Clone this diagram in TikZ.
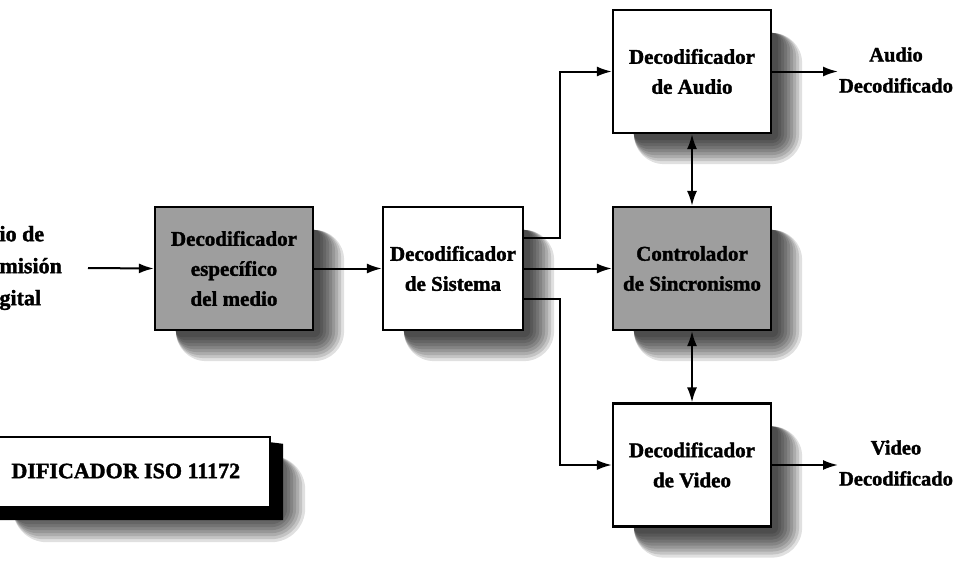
\documentclass[tikz,border=0pt]{standalone}
\usepackage{fontspec}
\setmainfont{Liberation Serif}[BoldFeatures={FakeBold=1.6}]
\usetikzlibrary{arrows.meta,calc,backgrounds}
\tikzset{
  blk/.style={draw=black, line width=2.2pt, minimum width=158pt, minimum height=123pt,
    align=center, font=\fontsize{21}{30}\selectfont\bfseries, inner sep=2pt},
  whitebox/.style={blk, fill=white},
  graybox/.style={blk, fill=black!38},
  lbl/.style={align=center, font=\fontsize{20.5}{31}\selectfont\bfseries},
  tip/.style={Latex[length=15pt,width=10pt]},
  conn/.style={line width=2pt, -{Latex[length=15pt,width=10pt]}},
  dconn/.style={line width=2pt, {Latex[length=15pt,width=10pt]}-{Latex[length=15pt,width=10pt]}},
}
\newcommand\fuzzyshade[1]{%
  \foreach \d in {30,27,...,6} {
    \fill[black, opacity=0.12, rounded corners=\d pt]
      ($(#1.north west)+(22,24)$) rectangle ($(#1.south east)+(\d,\d)$);
  }}
\begin{document}
\begin{tikzpicture}[x=1pt,y=-1pt]
\useasboundingbox (0,0) rectangle (965,565);

% boxes
\node[graybox] (med) at (234,268.5) {Decodificador\\específico\\del medio};
\node[whitebox, minimum width=140pt] (sis) at (453,268.5) {Decodificador\\de Sistema};
\node[whitebox] (aud) at (692,71.5) {Decodificador\\de Audio};
\node[graybox] (sinc) at (692,268.5) {Controlador\\de Sincronismo};
\node[whitebox] (vid) at (692,465) {Decodificador\\de Video};

% bottom-left title box
\node[draw=black, line width=2.4pt, fill=white, minimum width=276pt, minimum height=70pt,
      inner sep=0pt] (iso) at (132,472) {};
\node[font=\fontsize{22}{25}\selectfont\bfseries, anchor=west] (isot) at (8,471) {DIFICADOR ISO 11172};

\begin{pgfonlayer}{background}
  \fill[white] (0,0) rectangle (965,565);
  \fuzzyshade{med}
  \fuzzyshade{sis}
  \fuzzyshade{aud}
  \fuzzyshade{sinc}
  \fuzzyshade{vid}
  \foreach \d in {34,31,...,16} {
    \fill[black, opacity=0.12, rounded corners=\d pt]
      ($(iso.north west)+(20,20)$) rectangle ($(iso.south east)+(\d,\d)$);
  }
  \fill[black] ($(iso.north east)+(-4,6)$) -- ($(iso.north east)+(12,8)$) -- ($(iso.south east)+(12,12)$) -- ($(iso.south west)+(0,12)$) -- ($(iso.south west)+(0,-4)$) -- cycle;
\end{pgfonlayer}

% input text
\node[anchor=west, align=left, font=\fontsize{22}{32}\selectfont\bfseries] (inp) at (-4,268) {io de\\misión\\gital};
\coordinate (inpend) at (88,268);

% outputs
\coordinate (audend) at (838,71.5);
\coordinate (vidend) at (838,465);
\node[lbl] (audl) at (896,70) {Audio\\Decodificado};
\node[lbl] (vidl) at (896,463) {Video\\Decodificado};

% connectors
\draw[conn] (inpend) -- (med.west);
\draw[conn] (med.east) -- (sis.west);
\draw[conn] ($(sis.east)+(0,-31)$) -| (560,71.5) -- (aud.west);
\draw[conn] (sis.east) -- (sinc.west);
\draw[conn] ($(sis.east)+(0,30)$) -| (560,465) -- (vid.west);
\draw[dconn] (aud.south) -- (sinc.north);
\draw[dconn] (sinc.south) -- (vid.north);
\draw[conn] (aud.east) -- (audend);
\draw[conn] (vid.east) -- (vidend);
\end{tikzpicture}
\end{document}
